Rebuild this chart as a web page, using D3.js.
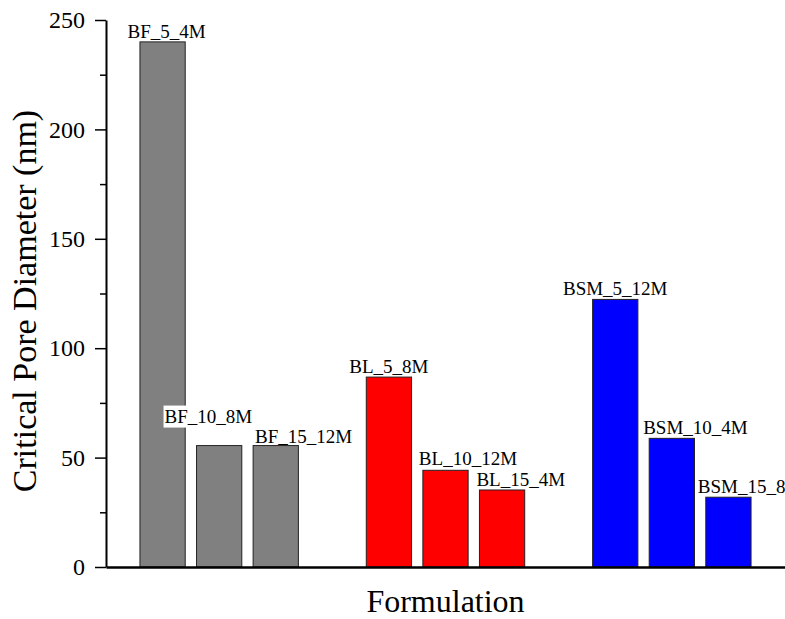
<!DOCTYPE html>
<html>
<head>
<meta charset="utf-8">
<script src="https://cdn.jsdelivr.net/npm/d3@7"></script>
<style>
  html, body { margin: 0; padding: 0; background: #fff; }
  svg { display: block; }
</style>
</head>
<body>
<script>
// ---- data ----
const groups = ["BF", "BL", "BSM"];
const labels = ["BF_5_4M", "BF_10_8M", "BF_15_12M",
                "BL_5_8M", "BL_10_12M", "BL_15_4M",
                "BSM_5_12M", "BSM_10_4M", "BSM_15_8"];
const values = [240, 55.5, 55.5,
                86.8, 44.2, 35.2,
                122.3, 58.8, 31.9];
const groupColors = ["#808080", "#ff0000", "#0000ff"];
const yTicks = [0, 50, 100, 150, 200, 250];
const yMinorTicks = [25, 75, 125, 175, 225];

// ---- layout (label placement tweaks, not data) ----
// anchor: "middle" => centered over bar, "start" => starts at bar left + dx
const labelAnchor = ["middle", "start", "start", "middle", "start", "start", "middle", "start", "start"];
const labelDx = [4, -32, 2, 0, -4, -3, 0, -6, -8];
const labelDy = [-4, -23, -3, -4, -5, -4, -4, -4, -4];
const labelBg = [false, true, false, false, false, false, false, false, false];

const W = 785, H = 619;
const margin = { left: 106, right: 0, top: 20, bottom: 52 };

const svg = d3.select("body").append("svg")
  .attr("width", W).attr("height", H)
  .style("font-family", "'Liberation Serif', 'Times New Roman', serif");

const x = d3.scaleLinear().domain([0, 12]).range([margin.left, W - margin.right]);
const y = d3.scaleLinear().domain([0, 250]).range([H - margin.bottom, margin.top]);
const step = x(1) - x(0);
const bw = step * 0.8;

const items = labels.map((l, i) => {
  const g = Math.floor(i / 3), k = i % 3;
  return { label: l, value: values[i], group: g, pos: 1 + 4 * g + k, i };
});

// bars
svg.append("g").selectAll("rect").data(items).join("rect")
  .attr("x", d => x(d.pos) - bw / 2)
  .attr("y", d => y(d.value))
  .attr("width", bw)
  .attr("height", d => y(0) - y(d.value))
  .attr("fill", d => groupColors[d.group])
  .attr("stroke", "#222")
  .attr("stroke-width", 1);

// labels
const lab = svg.append("g").selectAll("g").data(items).join("g");
lab.each(function(d) {
  const gsel = d3.select(this);
  const anchor = labelAnchor[d.i];
  const tx = anchor === "middle" ? x(d.pos) + labelDx[d.i] : x(d.pos) - bw / 2 + labelDx[d.i];
  const ty = y(d.value) + labelDy[d.i];
  const t = gsel.append("text")
    .attr("x", tx).attr("y", ty)
    .attr("text-anchor", anchor)
    .attr("font-size", 19)
    .attr("fill", "#000")
    .text(d.label);
  if (labelBg[d.i]) {
    const bb = t.node().getBBox();
    gsel.insert("rect", "text")
      .attr("x", bb.x - 1).attr("y", bb.y)
      .attr("width", bb.width + 2).attr("height", bb.height + 1)
      .attr("fill", "#fff");
  }
});

// y axis
const yAxis = d3.axisLeft(y).tickValues(yTicks).tickSize(11).tickPadding(10).tickSizeOuter(0);
const ya = svg.append("g").attr("transform", `translate(${margin.left},0)`).call(yAxis);
ya.select(".domain").attr("stroke", "#000").attr("stroke-width", 2);
ya.selectAll(".tick line").attr("stroke", "#000").attr("stroke-width", 1.5);
ya.selectAll(".tick text").attr("font-size", 24).attr("font-family", "'Liberation Serif', serif").attr("fill", "#000");

const yMinor = d3.axisLeft(y).tickValues(yMinorTicks).tickSize(6).tickFormat("").tickSizeOuter(0);
const ym = svg.append("g").attr("transform", `translate(${margin.left},0)`).call(yMinor);
ym.select(".domain").remove();
ym.selectAll(".tick line").attr("stroke", "#000").attr("stroke-width", 1.5);

// x axis line
const xAxis = d3.axisBottom(x).tickValues([]).tickSizeOuter(0);
const xa = svg.append("g").attr("transform", `translate(0,${y(0)})`).call(xAxis);
xa.select(".domain").attr("stroke", "#000").attr("stroke-width", 2.5);

// titles
svg.append("text")
  .attr("x", (margin.left + W - margin.right) / 2)
  .attr("y", 612)
  .attr("text-anchor", "middle")
  .attr("font-size", 32)
  .attr("fill", "#000")
  .text("Formulation");

svg.append("text")
  .attr("transform", `translate(36,301) rotate(-90)`)
  .attr("text-anchor", "middle")
  .attr("font-size", 34)
  .attr("fill", "#000")
  .text("Critical Pore Diameter (nm)");
</script>
</body>
</html>
